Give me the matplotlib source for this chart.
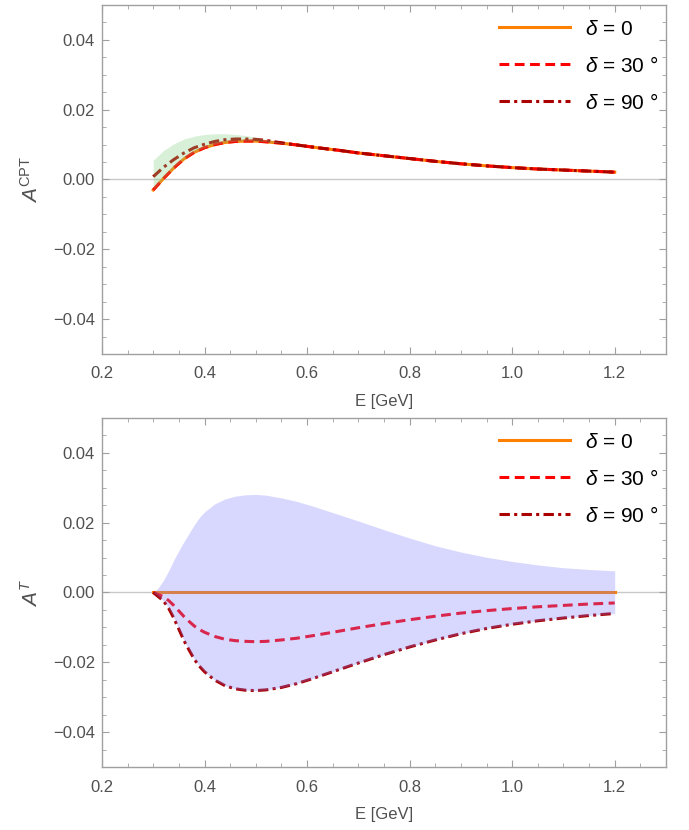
import matplotlib
matplotlib.use("Agg")
import matplotlib.pyplot as plt
from matplotlib.ticker import MultipleLocator

plt.rcParams['font.family'] = ['Liberation Sans', 'DejaVu Sans']
plt.rcParams['mathtext.fontset'] = 'custom'
plt.rcParams['mathtext.rm'] = 'Liberation Sans'
plt.rcParams['mathtext.it'] = 'Liberation Sans:italic'
plt.rcParams['mathtext.bf'] = 'Liberation Sans:bold'

# ---------------- data ----------------
E_cpt = [0.30, 0.32, 0.34, 0.36, 0.38, 0.40, 0.42, 0.44, 0.46, 0.48, 0.50, 0.52,
         0.55, 0.58, 0.62, 0.66, 0.70, 0.75, 0.80, 0.85, 0.90, 0.95, 1.00, 1.05,
         1.10, 1.15, 1.20]
cpt_d0 = [-0.0030, 0.0003, 0.0033, 0.0059, 0.0078, 0.0091, 0.0100, 0.0106, 0.0109, 0.0110,
          0.0110, 0.0108, 0.0104, 0.0099, 0.0091, 0.0084, 0.0076, 0.0068, 0.0060, 0.0052,
          0.0045, 0.0039, 0.0034, 0.0030, 0.0027, 0.0024, 0.0021]
cpt_d30 = [-0.0030, 0.0003, 0.0033, 0.0059, 0.0078, 0.0091, 0.0100, 0.0106, 0.0109, 0.0110,
           0.0110, 0.0108, 0.0104, 0.0099, 0.0091, 0.0084, 0.0076, 0.0068, 0.0060, 0.0052,
           0.0045, 0.0039, 0.0034, 0.0030, 0.0027, 0.0024, 0.0021]
cpt_d90 = [0.0008, 0.0035, 0.0057, 0.0076, 0.0091, 0.0101, 0.0109, 0.0114, 0.0116, 0.0116,
           0.0115, 0.0112, 0.0105, 0.0099, 0.0091, 0.0084, 0.0076, 0.0068, 0.0060, 0.0052,
           0.0045, 0.0039, 0.0034, 0.0030, 0.0027, 0.0024, 0.0021]
cpt_band_hi = [0.0055, 0.0083, 0.0102, 0.0116, 0.0124, 0.0129, 0.0131, 0.0131, 0.0129, 0.0126,
               0.0121, 0.0115, 0.0106, 0.0099, 0.0091, 0.0084, 0.0076, 0.0068, 0.0060, 0.0052,
               0.0045, 0.0039, 0.0034, 0.0030, 0.0027, 0.0024, 0.0021]

E_t = [0.30, 0.31, 0.32, 0.33, 0.34, 0.35, 0.36, 0.37, 0.38, 0.39, 0.40, 0.42, 0.44,
       0.46, 0.48, 0.50, 0.52, 0.55, 0.58, 0.61, 0.65, 0.70, 0.75, 0.80, 0.85, 0.90,
       0.95, 1.00, 1.05, 1.10, 1.15, 1.20]
t_d0 = [0.0] * len(E_t)
t_d90 = [0.0, -0.0012, -0.0024, -0.0045, -0.0073, -0.0105, -0.0138, -0.0165, -0.0191, -0.0211,
         -0.0227, -0.0251, -0.0267, -0.0276, -0.0280, -0.0281, -0.0279, -0.0272, -0.0261, -0.0247,
         -0.0227, -0.0202, -0.0178, -0.0156, -0.0136, -0.0118, -0.0103, -0.0091, -0.0081, -0.0073,
         -0.0066, -0.0060]
t_d30 = [0.0, -0.0006, -0.0012, -0.0023, -0.0037, -0.0053, -0.0069, -0.0083, -0.0096, -0.0106,
         -0.0114, -0.0126, -0.0134, -0.0138, -0.0140, -0.0141, -0.0140, -0.0136, -0.0131, -0.0124,
         -0.0114, -0.0101, -0.0089, -0.0078, -0.0068, -0.0059, -0.0052, -0.0046, -0.0041, -0.0037,
         -0.0033, -0.0030]
t_band_hi = [0.0, 0.0014, 0.0035, 0.0062, 0.0093, 0.0120, 0.0146, 0.0170, 0.0194, 0.0215,
             0.0231, 0.0254, 0.0268, 0.0276, 0.0280, 0.0281, 0.0279, 0.0271, 0.0261, 0.0248,
             0.0229, 0.0205, 0.0180, 0.0156, 0.0134, 0.0116, 0.0101, 0.0089, 0.0079, 0.0071,
             0.0066, 0.0062]

labels = [r"$\mathit{\delta}$ = 0", r"$\mathit{\delta}$ = 30 °", r"$\mathit{\delta}$ = 90 °"]
ylabels = [r"$A^{\mathrm{CPT}}$", r"$A^{T}$"]
xlabel = "E [GeV]"
xticks = [0.2, 0.4, 0.6, 0.8, 1.0, 1.2]
xticklabels = ["0.2", "0.4", "0.6", "0.8", "1.0", "1.2"]
yticks = [-0.04, -0.02, 0.0, 0.02, 0.04]
yticklabels = ["\u22120.04", "\u22120.02", "0.00", "0.02", "0.04"]

# ---------------- figure ----------------
fig = plt.figure(figsize=(6.89, 8.30), dpi=100)
ax1 = fig.add_axes([0.148, 0.5735, 0.8186, 0.4205])
ax2 = fig.add_axes([0.148, 0.0759, 0.8186, 0.4205])

c0, c30, c90 = "#ff8000", "#ff0000", "#aa0000"
gray = "#a0a0a0"
txt = "#505050"


def style(ax, ylab):
    ax.set_xlim(0.2, 1.3)
    ax.set_ylim(-0.05, 0.05)
    ax.xaxis.set_minor_locator(MultipleLocator(0.05))
    ax.yaxis.set_minor_locator(MultipleLocator(0.005))
    ax.set_xticks(xticks)
    ax.set_xticklabels(xticklabels)
    ax.set_yticks(yticks)
    ax.set_yticklabels(yticklabels)
    ax.tick_params(which="both", direction="in", top=True, right=True, colors=gray,
                   labelcolor=txt, labelsize=12)
    ax.tick_params(which="major", length=5, width=0.8)
    ax.tick_params(which="minor", length=3, width=0.6)
    ax.tick_params(axis="x", which="major", pad=9)
    ax.tick_params(axis="y", which="major", pad=5)
    for s in ax.spines.values():
        s.set_color(gray)
        s.set_linewidth(1.0)
    ax.axhline(0, color="#c8c8c8", lw=1.0, zorder=1)
    ax.set_xlabel(xlabel, color=txt, fontsize=12, labelpad=9)
    ax.set_ylabel(ylab, color=txt, fontsize=15, labelpad=8)


style(ax1, ylabels[0])
style(ax2, ylabels[1])

dash30 = (0, (3.2, 1.8))
dash90 = (0, (3.4, 1.4, 1.0, 1.4))

# top panel
ax1.plot(E_cpt, cpt_d0, color=c0, lw=2.2, label=labels[0], zorder=3)
ax1.plot(E_cpt, cpt_d30, color=c30, lw=2.2, ls=dash30, label=labels[1], zorder=4)
ax1.plot(E_cpt, cpt_d90, color=c90, lw=2.2, ls=dash90, label=labels[2], zorder=5)
ax1.fill_between(E_cpt, cpt_d0, cpt_band_hi, color="#7fcf7f", alpha=0.3, lw=0, zorder=6)

# bottom panel
ax2.plot(E_t, t_d0, color=c0, lw=2.2, label=labels[0], zorder=3)
ax2.plot(E_t, t_d30, color=c30, lw=2.2, ls=dash30, label=labels[1], zorder=4)
ax2.plot(E_t, t_d90, color=c90, lw=2.2, ls=dash90, label=labels[2], zorder=5)
ax2.fill_between(E_t, t_d90, t_band_hi, color="#8080ff", alpha=0.3, lw=0, zorder=6)

for ax in (ax1, ax2):
    ax.legend(loc="upper right", frameon=False, fontsize=15, handlelength=3.4,
              handletextpad=0.7, labelspacing=0.82, borderaxespad=0.3,
              bbox_to_anchor=(1.012, 1.0))

fig.savefig("out.png", dpi=100)
